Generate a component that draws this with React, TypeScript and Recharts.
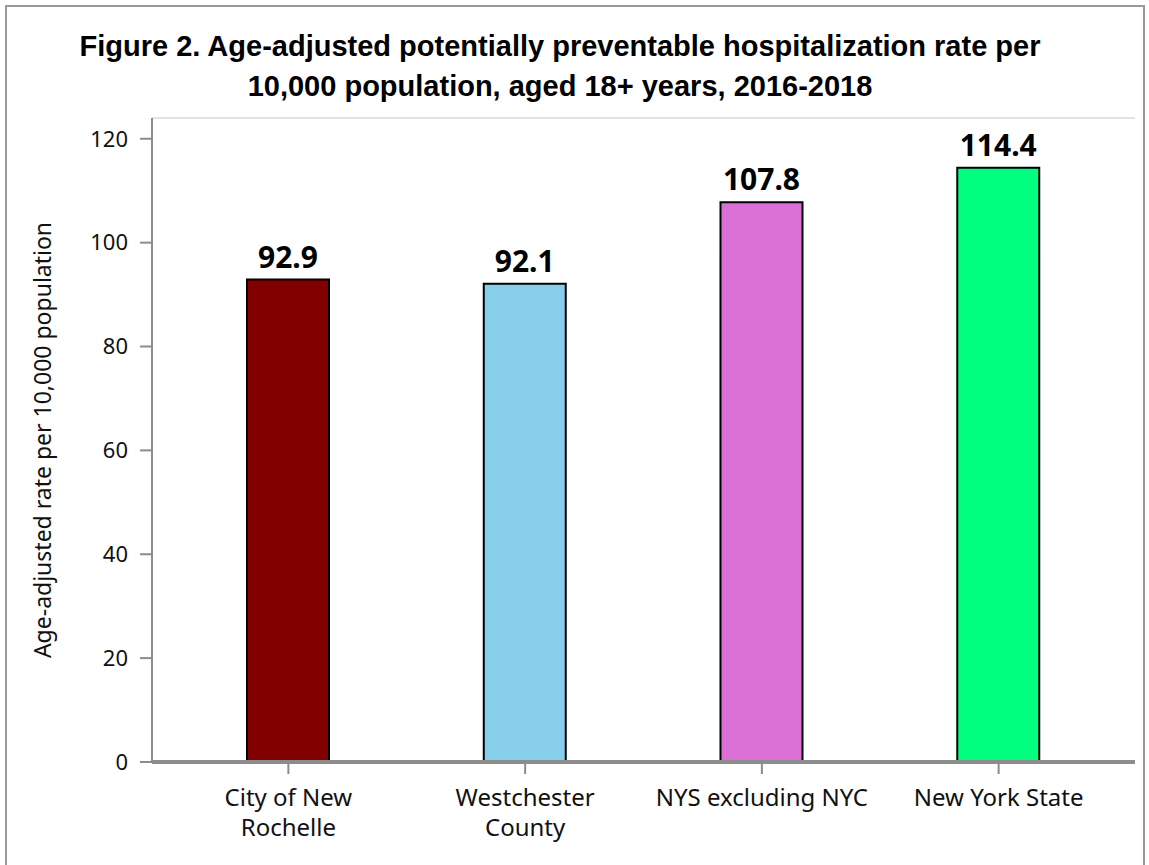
import { BarChart, Bar, XAxis, YAxis, CartesianGrid, Cell, LabelList } from 'recharts';

const categories = ['City of New Rochelle', 'Westchester County', 'NYS excluding NYC', 'New York State'];
const tickLines = [['City of New', 'Rochelle'], ['Westchester', 'County'], ['NYS excluding NYC'], ['New York State']];
const rates = [92.9, 92.1, 107.8, 114.4];
const barColors = ['#800000', '#87CEEB', '#DA70D6', '#00FF7F'];
const yTicks = [0, 20, 40, 60, 80, 100, 120];

const FONT = '"Noto Sans", "Open Sans", sans-serif';
const FRAME = '#8c8c8c';

const rows = categories.map((name, i) => ({ name, rate: rates[i] }));

function XTick({ x, y, payload }: any) {
  const idx = categories.indexOf(payload.value);
  const lines = tickLines[idx] ?? [payload.value];
  return (
    <text x={x} y={y} textAnchor="middle" fontFamily={FONT} fontSize={24} fill="#111">
      {lines.map((l, i) => (
        <tspan key={i} x={x} dy={30}>{l}</tspan>
      ))}
    </text>
  );
}

export default function App() {
  return (
    <div style={{ position: 'absolute', left: 0, top: 0, width: 1149, height: 865, background: '#fff', overflow: 'hidden' }}>
      <div style={{
        position: 'absolute', left: 5, top: 5, width: 1140, height: 900,
        border: '2px solid #9a9a9a', boxSizing: 'border-box',
      }} />
      <div style={{
        position: 'absolute', left: 0, width: 1120, top: 26,
        textAlign: 'center', fontFamily: '"Liberation Sans", Arial, sans-serif',
        fontWeight: 'bold', fontSize: 29, lineHeight: '40px', color: '#000',
      }}>
        Figure 2. Age-adjusted potentially preventable hospitalization rate per<br />
        10,000 population, aged 18+ years, 2016-2018
      </div>
      <div style={{ position: 'absolute', left: 0, top: 0 }}>
        <BarChart
          width={1149}
          height={865}
          data={rows}
          margin={{ top: 118, right: 14, bottom: 0, left: 0 }}
          barSize={82}
        >
          <CartesianGrid vertical={false} stroke="#e3e3e3" strokeWidth={2} />
          <XAxis
            dataKey="name"
            height={103}
            padding={{ left: 18, right: 18 }}
            axisLine={{ stroke: FRAME, strokeWidth: 4 }}
            tickLine={{ stroke: FRAME, strokeWidth: 2 }}
            tickSize={12}
            tick={<XTick />}
            interval={0}
          />
          <YAxis
            yAxisId="l"
            width={152}
            domain={[0, 124]}
            ticks={yTicks}
            allowDataOverflow
            axisLine={{ stroke: FRAME, strokeWidth: 2 }}
            tickLine={{ stroke: FRAME, strokeWidth: 2 }}
            tickSize={12}
            tickMargin={12}
            tick={{ fontFamily: FONT, fontSize: 22, fill: '#111' }}
            label={{
              value: 'Age-adjusted rate per 10,000 population',
              angle: -90,
              position: 'insideLeft',
              dx: 38,
              style: { fontFamily: FONT, fontSize: 23, fill: '#111', textAnchor: 'middle' },
            }}
          />
          <YAxis
            yAxisId="r"
            orientation="right"
            width={0}
            domain={[0, 124]}
            tick={false}
            tickLine={false}
            axisLine={{ stroke: FRAME, strokeWidth: 2 }}
          />
          <XAxis
            xAxisId="top"
            orientation="top"
            dataKey="name"
            height={0}
            tick={false}
            tickLine={false}
            axisLine={{ stroke: FRAME, strokeWidth: 2 }}
          />
          <Bar dataKey="rate" yAxisId="l" stroke="#000" strokeWidth={2} isAnimationActive={false}>
            {rows.map((r, i) => (
              <Cell key={r.name} fill={barColors[i]} />
            ))}
            <LabelList
              dataKey="rate"
              position="top"
              offset={12}
              style={{ fontFamily: FONT, fontSize: 30, fontWeight: 'bold', fill: '#000' }}
              formatter={(v: number) => v.toFixed(1)}
            />
          </Bar>
        </BarChart>
      </div>
    </div>
  );
}
